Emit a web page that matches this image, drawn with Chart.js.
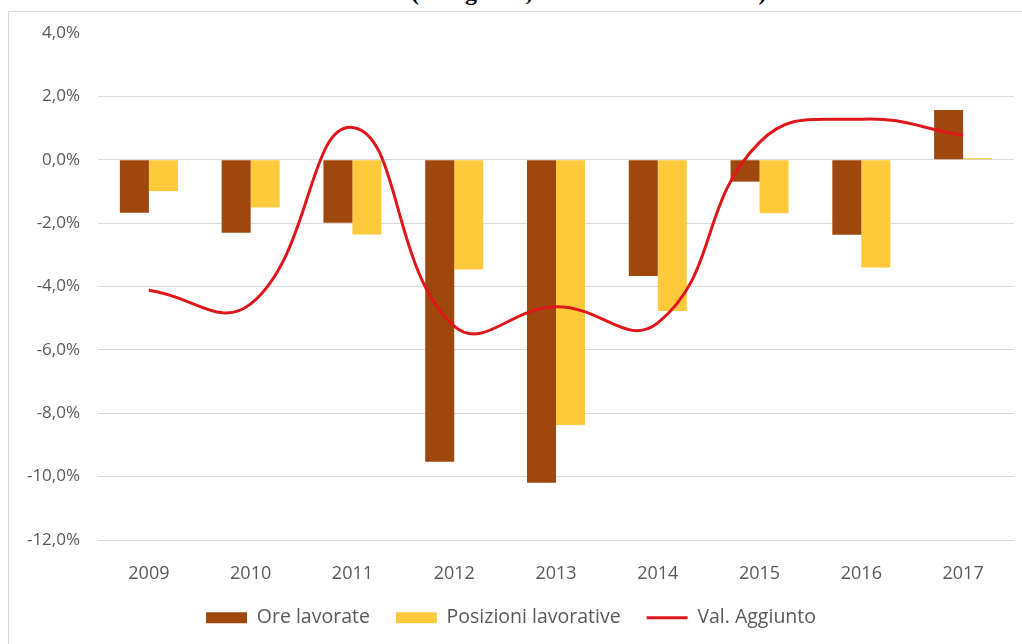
<!DOCTYPE html>
<html>
<head>
<meta charset="utf-8">
<script src="https://cdn.jsdelivr.net/npm/chart.js@4/dist/chart.umd.min.js"></script>
<style>
  html, body { margin: 0; padding: 0; background: #fff; overflow: hidden; }
  #title {
    position: absolute; left: 285px; top: -20px;
    font: bold 24px "Liberation Serif", serif; line-height: 24px;
    white-space: nowrap; color: #000;
  }
  #frame {
    position: absolute; left: 8px; top: 11px; width: 1030px; height: 650px;
    border: 1px solid #d9d9d9;
  }
  #wrap { position: absolute; left: 0; top: 0; width: 1022px; height: 644px; }
</style>
</head>
<body>
<div id="title">Costruzioni (dati grezzi, variazioni tendenziali)</div>
<div id="frame"></div>
<div id="wrap"><canvas id="chart"></canvas></div>
<script>
// Years on the x axis
const years = ['2009', '2010', '2011', '2012', '2013', '2014', '2015', '2016', '2017'];

// Values (%)
const oreLavorate = [-1.67, -2.30, -1.99, -9.53, -10.19, -3.67, -0.69, -2.37, 1.57];
const posizioniLavorative = [-0.99, -1.51, -2.36, -3.46, -8.37, -4.77, -1.69, -3.40, 0.05];
const valAggiunto = [-4.12, -4.55, 1.02, -5.25, -4.64, -5.15, 0.55, 1.28, 0.77];

const textColor = '#595959';
const fontFamily = '"Open Sans", "Noto Sans", sans-serif';

const ctx = document.getElementById('chart').getContext('2d');

const chart = new Chart(ctx, {
    type: 'bar',
    data: {
        labels: years,
        datasets: [{
            label: 'Ore lavorate',
            data: oreLavorate,
            backgroundColor: '#9E480E',
            borderWidth: 0,
            pointStyle: 'rect',
            order: 1
        }, {
            label: 'Posizioni lavorative',
            data: posizioniLavorative,
            backgroundColor: '#FFC93C',
            borderWidth: 0,
            pointStyle: 'rect',
            order: 1
        }, {
            type: 'line',
            label: 'Val. Aggiunto',
            data: valAggiunto,
            borderColor: '#E0161B',
            backgroundColor: '#E0161B',
            borderWidth: 3,
            pointRadius: 0,
            pointStyle: 'line',
            tension: 0.45,
            order: 0
        }]
    },
    options: {
        responsive: true,
        maintainAspectRatio: false,
        animation: false,
        categoryPercentage: 0.57,
        barPercentage: 1.0,
        layout: {
            padding: { left: 8, right: 8, top: 33, bottom: 12 }
        },
        scales: {
            x: {
                grid: { display: false },
                border: { display: false },
                ticks: {
                    color: textColor,
                    font: { family: fontFamily, size: 18 },
                    padding: 15
                },
                afterFit: function(scale) { scale.height = 42; }
            },
            y: {
                min: -12,
                max: 4,
                border: { display: false },
                grid: {
                    drawTicks: false,
                    color: function(c) { return c.tick && c.tick.value === 4 ? 'rgba(0,0,0,0)' : '#d9d9d9'; }
                },
                ticks: {
                    stepSize: 2,
                    color: textColor,
                    font: { family: fontFamily, size: 17 },
                    padding: 18,
                    callback: function(v) { return v.toFixed(1).replace('.', ',') + '%'; }
                },
                afterFit: function(scale) { scale.width = 90; }
            }
        },
        plugins: {
            tooltip: { enabled: false },
            legend: {
                position: 'bottom',
                maxHeight: 50,
                labels: {
                    usePointStyle: true,
                    pointStyleWidth: 41,
                    boxHeight: 11,
                    padding: 26,
                    color: textColor,
                    font: { family: fontFamily, size: 19.5 },
                    sort: function(a, b) { return a.datasetIndex - b.datasetIndex; }
                }
            }
        }
    }
});
</script>
</body>
</html>
